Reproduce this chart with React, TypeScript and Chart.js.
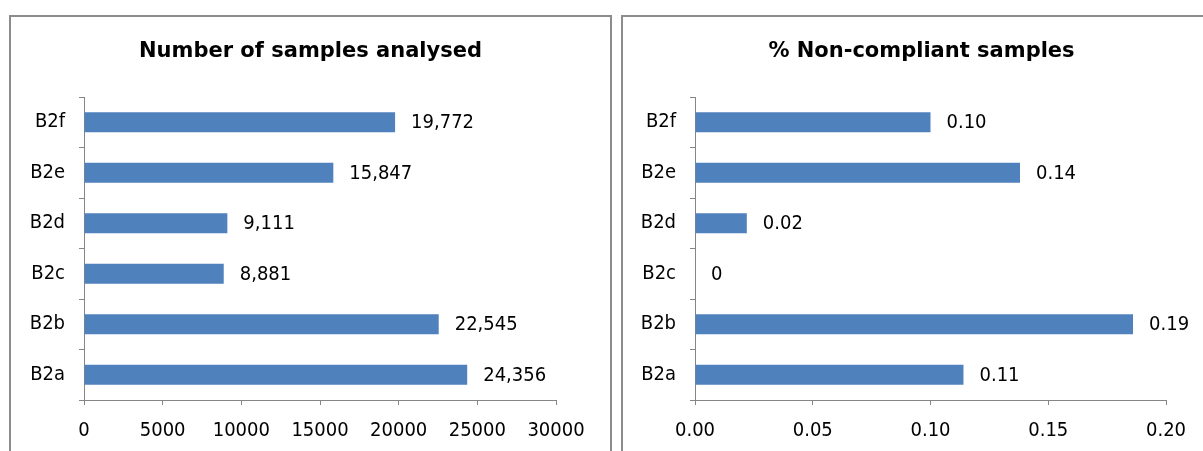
import React, { useEffect, useRef } from "react";
import { Chart, registerables } from "chart.js";

Chart.register(...registerables);

const categories = ["B2a", "B2b", "B2c", "B2d", "B2e", "B2f"];
const samplesAnalysed = [24356, 22545, 8881, 9111, 15847, 19772];
const nonCompliantPct = [0.114, 0.186, 0, 0.022, 0.138, 0.1];

const FONT = "'DejaVu Sans Condensed', 'DejaVu Sans', sans-serif";
const TITLE_FONT = "'DejaVu Sans', sans-serif";
const BAR = "#4F81BD";
const AXIS = "#868686";

const valueLabels = {
  id: "valueLabels",
  afterDatasetsDraw(chart: any, _args: any, opts: any) {
    const ctx = chart.ctx;
    const meta = chart.getDatasetMeta(0);
    const data = chart.data.datasets[0].data as number[];
    ctx.save();
    ctx.font = `20px ${FONT}`;
    ctx.fillStyle = "#000";
    ctx.textAlign = "left";
    ctx.textBaseline = "middle";
    meta.data.forEach((bar: any, i: number) => {
      ctx.fillText(opts.format(data[i]), bar.x + 16, bar.y + 1);
    });
    ctx.restore();
  },
};

const panelTitle = {
  id: "panelTitle",
  afterDraw(chart: any, _args: any, opts: any) {
    const ctx = chart.ctx;
    ctx.save();
    ctx.font = `bold 21px ${TITLE_FONT}`;
    ctx.fillStyle = "#000";
    ctx.textAlign = "center";
    ctx.textBaseline = "middle";
    ctx.fillText(opts.text, chart.width / 2, 35);
    ctx.restore();
  },
};

function makeConfig(
  title: string,
  values: number[],
  max: number,
  step: number,
  tickFmt: (v: number) => string,
  labelFmt: (v: number) => string,
  yWidth: number
): any {
  return {
    type: "bar",
    data: {
      labels: categories,
      datasets: [
        {
          data: values,
          backgroundColor: BAR,
          borderWidth: 0,
          barPercentage: 0.4,
          categoryPercentage: 1,
        },
      ],
    },
    plugins: [valueLabels, panelTitle],
    options: {
      indexAxis: "y",
      animation: false,
      responsive: false,
      devicePixelRatio: 1,
      layout: { padding: { top: 80, left: 0, right: 54, bottom: 0 } },
      plugins: {
        legend: { display: false },
        tooltip: { enabled: false },
        title: { display: false },
        panelTitle: { text: title },
        valueLabels: { format: labelFmt },
      },
      scales: {
        x: {
          min: 0,
          max,
          ticks: {
            stepSize: step,
            color: "#000",
            font: { family: FONT, size: 20 },
            padding: 14,
            callback: (v: any) => tickFmt(Number(v)),
            maxRotation: 0,
          },
          grid: {
            drawOnChartArea: false,
            drawTicks: true,
            tickLength: 5,
            color: AXIS,
          },
          border: { display: true, color: AXIS, width: 1 },
          afterFit: (s: any) => {
            s.height = 57;
          },
        },
        y: {
          reverse: true,
          ticks: {
            color: "#000",
            font: { family: FONT, size: 20 },
            padding: 14,
          },
          grid: {
            offset: true,
            drawOnChartArea: false,
            drawTicks: true,
            tickLength: 5,
            color: AXIS,
          },
          border: { display: true, color: AXIS, width: 1 },
          afterFit: (s: any) => {
            s.width = yWidth;
          },
        },
      },
    },
  };
}

function Panel(props: {
  left: number;
  width: number;
  canvasWidth: number;
  config: any;
}) {
  const ref = useRef<HTMLCanvasElement | null>(null);
  useEffect(() => {
    if (!ref.current) return;
    const chart = new Chart(ref.current, props.config);
    return () => chart.destroy();
  }, []);
  return (
    <div
      style={{
        position: "absolute",
        left: props.left,
        top: 15,
        width: props.width,
        height: 460,
        border: "2px solid #8c8c8c",
        boxSizing: "border-box",
        background: "#fff",
        overflow: "hidden",
      }}
    >
      <canvas
        ref={ref}
        width={props.canvasWidth}
        height={440}
        style={{ display: "block", width: props.canvasWidth, height: 440 }}
      />
    </div>
  );
}

export default function App() {
  const leftCfg = makeConfig(
    "Number of samples analysed",
    samplesAnalysed,
    30000,
    5000,
    (v) => String(v),
    (v) => v.toLocaleString("en-US"),
    73
  );
  const rightCfg = makeConfig(
    "% Non-compliant samples",
    nonCompliantPct,
    0.2,
    0.05,
    (v) => v.toFixed(2),
    (v) => (v === 0 ? "0" : v.toFixed(2)),
    72
  );
  return (
    <div>
      <Panel left={9} width={603} canvasWidth={599} config={leftCfg} />
      <Panel left={621} width={620} canvasWidth={597} config={rightCfg} />
    </div>
  );
}
